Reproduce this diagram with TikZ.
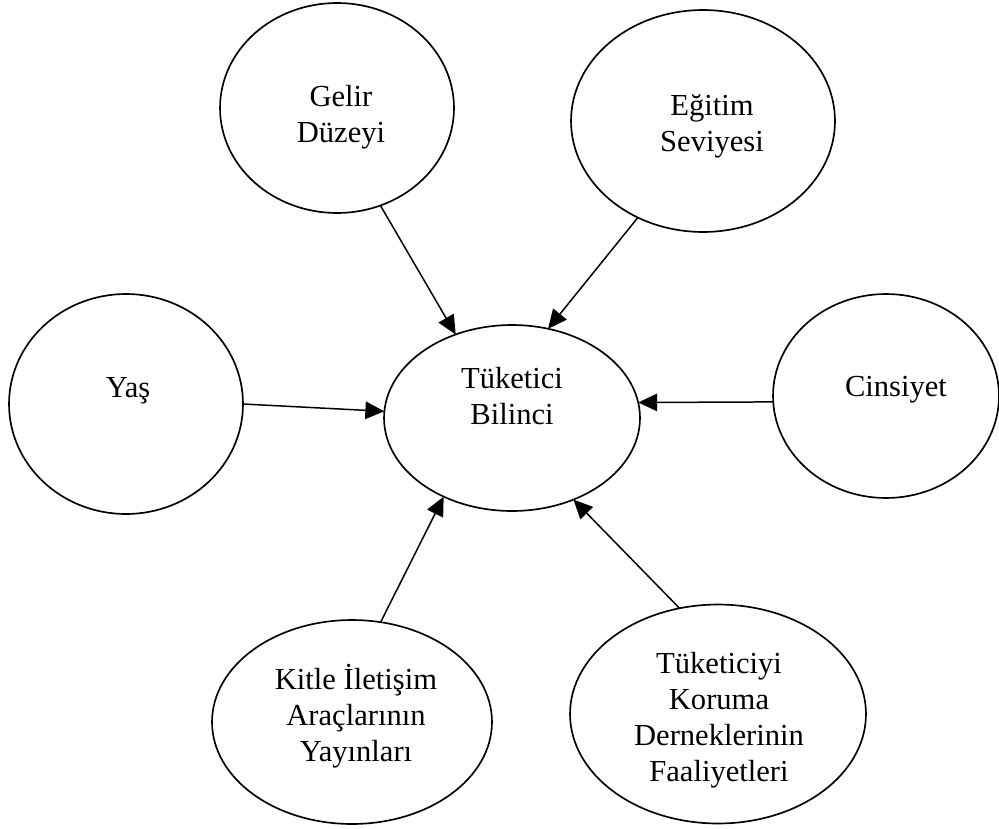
\documentclass[tikz,border=0pt]{standalone}
\usepackage{fontspec}
\setmainfont{Liberation Serif}
\usetikzlibrary{arrows.meta,shapes.geometric}

\begin{document}
\begin{tikzpicture}[
x=0.02cm, y=-0.02cm,
factor/.style={ellipse, draw, line width=0.95pt, inner sep=0pt, outer sep=0pt},
lbl/.style={align=center, inner sep=0pt, font=\fontsize{17.4}{20.5}\selectfont},
arrow/.style={-{Triangle[length=0.38cm, width=0.35cm]}, line width=0.85pt}
]
\useasboundingbox (0,0) rectangle (999,828);

\node[factor, minimum width=4.68cm, minimum height=4.2cm] (gelir) at (337,108) {};
\node[lbl] (gelir-txt) at (341,117) {Gelir\\Düzeyi};

\node[factor, minimum width=5.28cm, minimum height=4.44cm] (egitim) at (703,121) {};
\node[lbl] (egitim-txt) at (712,126) {Eğitim\\Seviyesi};

\node[factor, minimum width=4.68cm, minimum height=4.4cm] (yas) at (126,404) {};
\node[lbl] (yas-txt) at (128,391) {Yaş};

\node[factor, minimum width=5.12cm, minimum height=3.72cm] (bilinc) at (512,418) {};
\node[lbl] (bilinc-txt) at (512,396) {Tüketici\\Bilinci};

\node[factor, minimum width=4.52cm, minimum height=4.08cm] (cinsiyet) at (886,396) {};
\node[lbl] (cinsiyet-txt) at (896,390) {Cinsiyet};

\node[factor, minimum width=5.6cm, minimum height=4.08cm] (kitle) at (352,722) {};
\node[lbl] (kitle-txt) at (356,716) {Kitle İletişim\\Araçlarının\\Yayınları};

\node[factor, minimum width=5.92cm, minimum height=4.38cm] (koruma) at (718,714) {};
\node[lbl] (koruma-txt) at (719,720) {Tüketiciyi\\Koruma\\Derneklerinin\\Faaliyetleri};

\draw[arrow] (gelir.-66) -- (bilinc.124);
\draw[arrow] (egitim.236) -- (bilinc.68);
\draw[arrow] (yas.0) -- (bilinc.177);
\draw[arrow] (cinsiyet.183) -- (bilinc.7);
\draw[arrow] (kitle.74) -- (bilinc.229);
\draw[arrow] (koruma.110) -- (bilinc.-53);

\end{tikzpicture}
\end{document}
